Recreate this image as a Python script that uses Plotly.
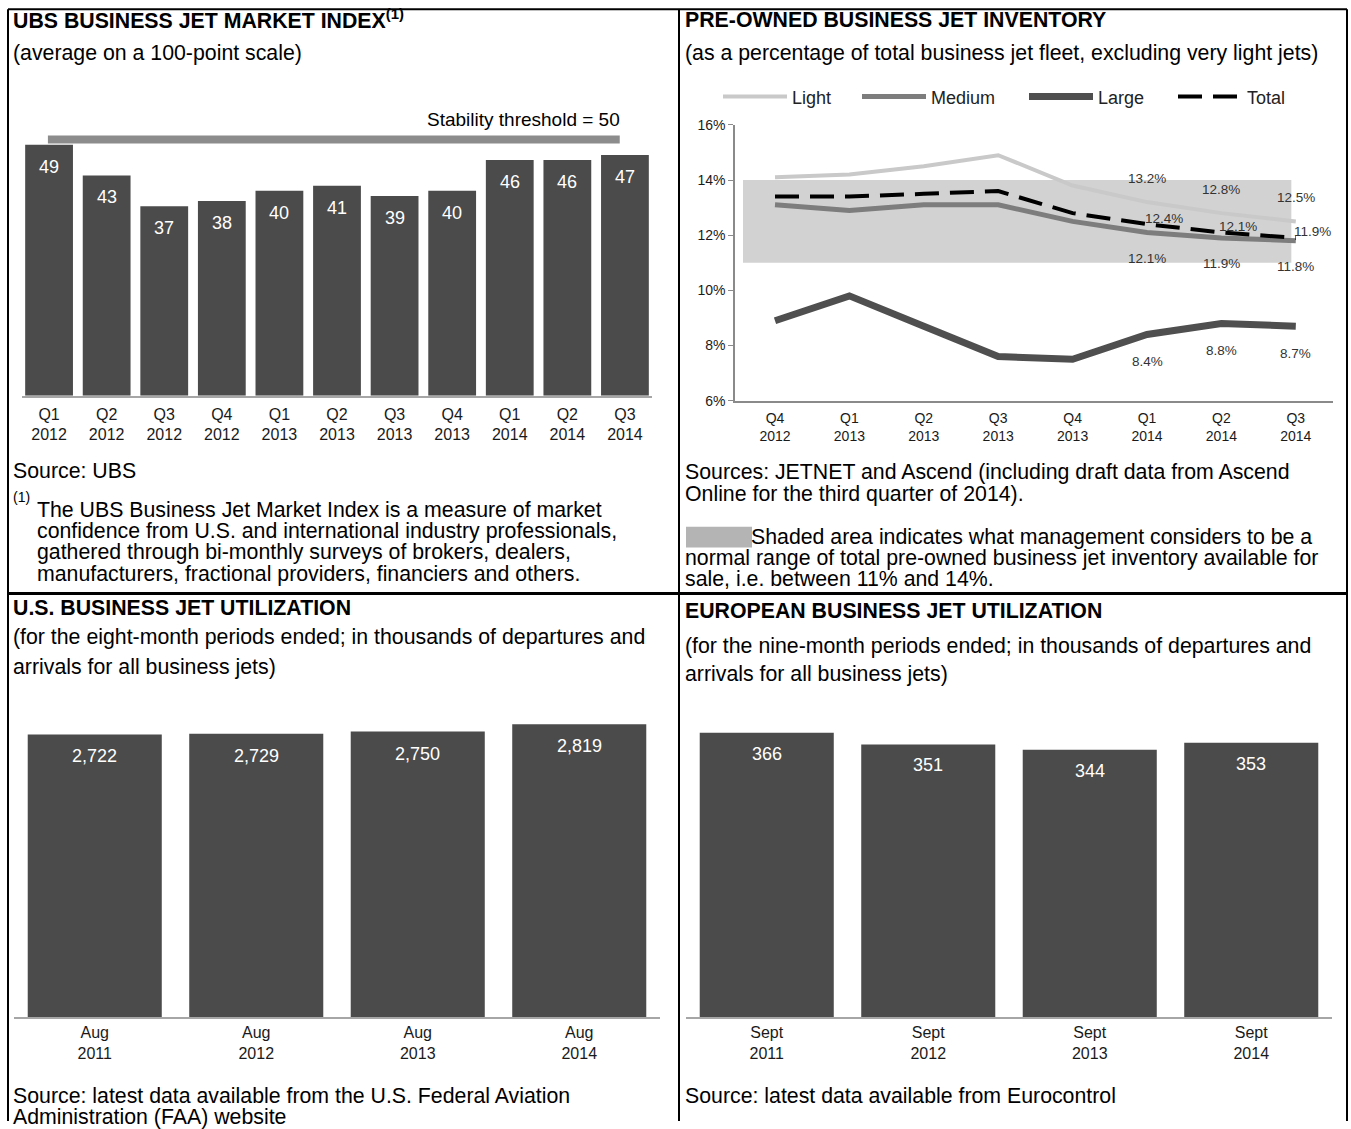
import plotly.graph_objects as go

W, H = 1351, 1129

# ---------------- data ----------------
ubs_quarters = ["Q1<br>2012", "Q2<br>2012", "Q3<br>2012", "Q4<br>2012", "Q1<br>2013", "Q2<br>2013",
                "Q3<br>2013", "Q4<br>2013", "Q1<br>2014", "Q2<br>2014", "Q3<br>2014"]
ubs_index = [49, 43, 37, 38, 40, 41, 39, 40, 46, 46, 47]
stability_threshold = 50

inv_quarters = ["Q4<br>2012", "Q1<br>2013", "Q2<br>2013", "Q3<br>2013", "Q4<br>2013",
                "Q1<br>2014", "Q2<br>2014", "Q3<br>2014"]
inv_light = [14.1, 14.2, 14.5, 14.9, 13.8, 13.2, 12.8, 12.5]
inv_medium = [13.1, 12.9, 13.1, 13.1, 12.5, 12.1, 11.9, 11.8]
inv_large = [8.9, 9.8, 8.7, 7.6, 7.5, 8.4, 8.8, 8.7]
inv_total = [13.4, 13.4, 13.5, 13.6, 12.8, 12.4, 12.1, 11.9]
normal_low, normal_high = 11, 14
inv_yticks = [6, 8, 10, 12, 14, 16]
inv_yticklabels = ["6%", "8%", "10%", "12%", "14%", "16%"]
labeled_idx = [5, 6, 7]

us_periods = ["Aug<br>2011", "Aug<br>2012", "Aug<br>2013", "Aug<br>2014"]
us_util = [2722, 2729, 2750, 2819]
eu_periods = ["Sept<br>2011", "Sept<br>2012", "Sept<br>2013", "Sept<br>2014"]
eu_util = [366, 351, 344, 353]

# ---------------- helpers ----------------
FONT = "Liberation Sans, Arial, sans-serif"
BAR = "#4b4b4b"
AX = "#a6a6a6"
TXT = 21.3

# observed vertical placement of the rendered page: shown = 8.07 + 0.9864 * placed
V_OFF, V_SC = 8.07, 0.9864


def px(x):
    return x / W


def py(y):
    return 1 - ((y - V_OFF) / V_SC) / H


fig = go.Figure()

# Panel 1 bars
fig.add_trace(go.Bar(x=ubs_quarters, y=ubs_index, marker=dict(color=BAR, line=dict(width=0)),
                     width=0.83, xaxis="x", yaxis="y", showlegend=False, hoverinfo="skip"))

# Panel 2 lines
fig.add_trace(go.Scatter(x=inv_quarters, y=inv_light, mode="lines", name="Light",
                         line=dict(color="#c9c9c9", width=4), xaxis="x2", yaxis="y2", legend="legend"))
fig.add_trace(go.Scatter(x=inv_quarters, y=inv_medium, mode="lines", name="Medium",
                         line=dict(color="#7d7d7d", width=5), xaxis="x2", yaxis="y2", legend="legend2"))
fig.add_trace(go.Scatter(x=inv_quarters, y=inv_large, mode="lines", name="Large",
                         line=dict(color="#4f4f4f", width=7), xaxis="x2", yaxis="y2", legend="legend3"))
fig.add_trace(go.Scatter(x=inv_quarters, y=inv_total, mode="lines", name="Total",
                         line=dict(color="#000000", width=4, dash="24px,11px"), xaxis="x2", yaxis="y2",
                         legend="legend4"))

# Panel 3 & 4 bars
fig.add_trace(go.Bar(x=us_periods, y=us_util, marker=dict(color=BAR, line=dict(width=0)),
                     width=0.83, xaxis="x3", yaxis="y3", showlegend=False, hoverinfo="skip"))
fig.add_trace(go.Bar(x=eu_periods, y=eu_util, marker=dict(color=BAR, line=dict(width=0)),
                     width=0.83, xaxis="x4", yaxis="y4", showlegend=False, hoverinfo="skip"))

ann = []
shapes = []


def text(x, y, s, size=TXT, bold=False, anchor="left", color="#000"):
    if bold:
        s = "<b>" + s + "</b>"
    ann.append(dict(xref="paper", yref="paper", x=px(x - (2 if anchor == "left" else 0)), y=py(y),
                    text=s, showarrow=False, borderpad=0,
                    xanchor=anchor, yanchor="middle", align="left",
                    font=dict(family=FONT, size=size, color=color)))


# bar labels
for i, v in enumerate(ubs_index):
    ann.append(dict(xref="x", yref="y", x=i, y=v, text=str(v), showarrow=False, yshift=-22,
                    font=dict(family=FONT, size=18, color="white")))
for i, v in enumerate(us_util):
    ann.append(dict(xref="x3", yref="y3", x=i, y=v, text=f"{v:,}", showarrow=False, yshift=-22,
                    font=dict(family=FONT, size=18, color="white")))
for i, v in enumerate(eu_util):
    ann.append(dict(xref="x4", yref="y4", x=i, y=v, text=f"{v:,}", showarrow=False, yshift=-21,
                    font=dict(family=FONT, size=18, color="white")))

# line labels
lab_font = dict(family=FONT, size=13.5, color="#333")
for i in labeled_idx:
    ann.append(dict(xref="x2", yref="y2", x=i, y=inv_light[i], text=f"{inv_light[i]:.1f}%",
                    showarrow=False, yshift=24, font=lab_font))
    ann.append(dict(xref="x2", yref="y2", x=i, y=inv_medium[i], text=f"{inv_medium[i]:.1f}%",
                    showarrow=False, yshift=-26, font=lab_font))
    ann.append(dict(xref="x2", yref="y2", x=i, y=inv_total[i], text=f"{inv_total[i]:.1f}%",
                    showarrow=False, yshift=6, xshift=17, font=lab_font))
    ann.append(dict(xref="x2", yref="y2", x=i, y=inv_large[i], text=f"{inv_large[i]:.1f}%",
                    showarrow=False, yshift=-27, font=lab_font))

# stability threshold line
shapes.append(dict(type="line", xref="x", yref="y", x0=-0.02, x1=9.91,
                   y0=stability_threshold, y1=stability_threshold,
                   line=dict(color="#8c8c8c", width=8)))
text(621, 120, f"Stability threshold = {stability_threshold}", size=19, anchor="right")

# normal range shading
shapes.append(dict(type="rect", xref="x2", yref="y2", x0=-0.43, x1=6.94, y0=normal_low, y1=normal_high,
                   fillcolor="#d2d2d2", line=dict(width=0), layer="below"))

# texts panel 1
text(14, 20, "UBS BUSINESS JET MARKET INDEX<sup>(1)</sup>", bold=True)
text(14, 53, "(average on a 100-point scale)")
text(14, 471, "Source: UBS")
text(14, 497, "(1)", size=14)
foot = ["The UBS Business Jet Market Index is a measure of market",
        "confidence from U.S. and international industry professionals,",
        "gathered through bi-monthly surveys of brokers, dealers,",
        "manufacturers, fractional providers, financiers and others."]
for k, line in enumerate(foot):
    text(38, 510 + k * 21.3, line)

# texts panel 2
text(686, 20, "PRE-OWNED BUSINESS JET INVENTORY", bold=True)
text(686, 53, "(as a percentage of total business jet fleet, excluding very light jets)")
text(686, 472, "Sources: JETNET and Ascend (including draft data from Ascend")
text(686, 494, "Online for the third quarter of 2014).")
shapes.append(dict(type="rect", xref="paper", yref="paper", x0=px(686), x1=px(752), y0=py(548), y1=py(527),
                   fillcolor="#b4b4b4", line=dict(width=0)))
text(752, 537, "Shaded area indicates what management considers to be a")
text(686, 558, "normal range of total pre-owned business jet inventory available for")
text(686, 579, f"sale, i.e. between {normal_low}% and {normal_high}%.")

# texts panel 3
text(14, 608, "U.S. BUSINESS JET UTILIZATION", bold=True)
text(14, 637, "(for the eight-month periods ended; in thousands of departures and")
text(14, 667, "arrivals for all business jets)")
text(14, 1097, "Source: latest data available from the U.S. Federal Aviation")
text(14, 1118, "Administration (FAA) website")

# texts panel 4
text(686, 611, "EUROPEAN BUSINESS JET UTILIZATION", bold=True)
text(686, 646, "(for the nine-month periods ended; in thousands of departures and")
text(686, 674, "arrivals for all business jets)")
text(686, 1097, "Source: latest data available from Eurocontrol")


# borders
def pline(x0, y0, x1, y1, w=2):
    shapes.append(dict(type="line", xref="paper", yref="paper", x0=px(x0), y0=y0, x1=px(x1), y1=y1,
                       line=dict(color="#000", width=w)))


TOPB = 1 - 1.2 / H
pline(8, TOPB, 8, 0)
pline(8, TOPB, 1347, TOPB)
pline(1347, TOPB, 1347, 0)
pline(679, TOPB, 679, 0)
pline(8, py(594), 1347, py(594), 3)

tickf = dict(family=FONT, size=16, color="#1a1a1a")
tickf2 = dict(family=FONT, size=14, color="#1a1a1a")

legend_common = dict(orientation="h", xanchor="left", yanchor="middle", bgcolor="rgba(0,0,0,0)",
                     font=dict(family=FONT, size=18, color="#222"), itemwidth=64,
                     itemclick=False, itemdoubleclick=False)

fig.update_layout(
    width=W, height=H, autosize=False,
    margin=dict(l=0, r=0, t=0, b=0),
    paper_bgcolor="white", plot_bgcolor="rgba(0,0,0,0)",
    font=dict(family=FONT, color="#000"),
    xaxis=dict(domain=[px(22), px(652)], range=[-0.47, 10.47], type="category", anchor="y",
               showline=True, linecolor=AX, linewidth=1.5, ticks="", tickfont=tickf, ticklabelstandoff=3,
               showgrid=False, zeroline=False, fixedrange=True),
    yaxis=dict(domain=[py(396), py(396 - 55 * 5.125)], range=[0, 55], visible=False, fixedrange=True,
               anchor="x"),
    xaxis2=dict(domain=[px(735), px(1333)], range=[-0.5376, 7.5], type="category", anchor="y2",
                showline=True, linecolor="#8a8a8a", linewidth=1.5, ticks="", tickfont=tickf2,
                ticklabelstandoff=4, showgrid=False, zeroline=False, fixedrange=True),
    yaxis2=dict(domain=[py(401), py(125)], range=[6, 16], tickmode="array", tickvals=inv_yticks,
                ticktext=inv_yticklabels, anchor="x2",
                showline=True, linecolor="#8a8a8a", linewidth=1.5, ticks="outside", ticklen=5,
                tickcolor="#8a8a8a", tickfont=tickf2, showgrid=False, zeroline=False, fixedrange=True),
    xaxis3=dict(domain=[px(14), px(660)], range=[-0.5, 3.5], type="category", anchor="y3",
                showline=True, linecolor=AX, linewidth=1.5, ticks="", tickfont=tickf,
                showgrid=False, zeroline=False, fixedrange=True),
    yaxis3=dict(domain=[py(1018), py(700)], range=[0, 318 / 0.104], visible=False, fixedrange=True,
                anchor="x3"),
    xaxis4=dict(domain=[px(686), px(1332)], range=[-0.5, 3.5], type="category", anchor="y4",
                showline=True, linecolor=AX, linewidth=1.5, ticks="", tickfont=tickf,
                showgrid=False, zeroline=False, fixedrange=True),
    yaxis4=dict(domain=[py(1018), py(700)], range=[0, 318 / 0.778], visible=False, fixedrange=True,
                anchor="x4"),
    legend=dict(x=px(718), y=py(97), **legend_common),
    legend2=dict(x=px(857), y=py(97), **legend_common),
    legend3=dict(x=px(1024), y=py(97), **legend_common),
    legend4=dict(x=px(1173), y=py(97), **legend_common),
    annotations=ann,
    shapes=shapes,
)

fig.write_html("out.html", config={"displayModeBar": False})
